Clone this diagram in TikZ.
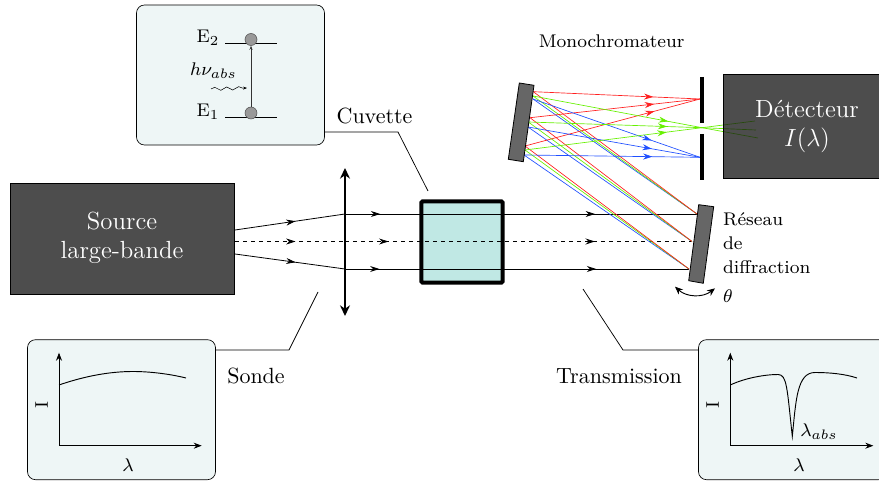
\documentclass[tikz,border=0pt]{standalone}
\usepackage{tikz}
\usetikzlibrary{arrows.meta,decorations.markings,decorations.pathmorphing}
\definecolor{insetbg}{HTML}{EEF6F6}
\definecolor{cellbg}{HTML}{C0E8E4}
\definecolor{gratgray}{HTML}{666666}
\definecolor{rayred}{HTML}{FF2020}
\definecolor{raygreen}{HTML}{66F000}
\definecolor{rayblue}{HTML}{2050FF}
\begin{document}
\begin{tikzpicture}[x=0.75pt, y=-0.75pt, darkbox/.style={draw=black, fill=black!93, fill opacity=0.75, inner sep=0pt}, boxtxt/.style={font=\large, scale=1.55, align=center, text=white, inner sep=0pt}, inset/.style={draw=black, fill=insetbg, rounded corners=6pt, inner sep=0pt, minimum width=141pt, minimum height=105pt, line width=0.5pt}, lbl/.style={font=\normalsize, scale=1.65, inner sep=0pt}, smalltxt/.style={font=\footnotesize, scale=1.72, inner sep=0pt}, grating/.style={draw=black, fill=gratgray, line width=0.6pt}, beam/.style={postaction={decorate}, decoration={markings, mark=at position #1 with {\arrow{Stealth[length=7pt,width=4.5pt]}}}}, twobeam/.style 2 args={line width=0.6pt, postaction={decorate}, decoration={markings, mark=at position #1 with {\arrow{Stealth[length=7pt,width=4.5pt]}}, mark=at position #2 with {\arrow{Stealth[length=7pt,width=4.5pt]}}}}, axis/.style={-{Stealth[length=6pt,width=4.5pt]}, line width=0.6pt}, curve/.style={line width=0.7pt}, leader/.style={line width=0.55pt}, ray/.style={line width=0.5pt}]
\clip (0,0) rectangle (879,484);
\coordinate (sup) at (235,230); \coordinate (smid) at (235,241.5); \coordinate (slow) at (235,254); \coordinate (lup) at (345,214); \coordinate (lmid) at (345,241.5); \coordinate (llow) at (345,269); \coordinate (gup) at (697,214); \coordinate (gmid) at (692,241.5); \coordinate (glow) at (689,269);
\coordinate (r1) at (533.3,91.7); \coordinate (r2) at (530,117.7); \coordinate (r3) at (525,146); \coordinate (v1) at (533,96); \coordinate (v2) at (528.3,122); \coordinate (v3) at (525,150); \coordinate (b1) at (533,99); \coordinate (b2) at (528,127); \coordinate (b3) at (524,155); \coordinate (fr) at (700,99); \coordinate (fv) at (702,127.7); \coordinate (fb) at (700,157.3); \coordinate (v1end) at (758,138); \coordinate (v2end) at (756,130); \coordinate (v3end) at (755,121);
% beams through lens and cell
\node[draw=black, fill=cellbg, line width=3pt, rounded corners=1pt, minimum size=61pt, inner sep=0pt] (cell) at (462,242) {};
\draw[beam=0.55, line width=0.6pt] (sup) -- (lup); \draw[beam=0.55, line width=0.6pt, dashed] (smid) -- (lmid); \draw[beam=0.55, line width=0.6pt] (slow) -- (llow);
\draw[twobeam={0.1}{0.71}] (lup) -- (gup); \draw[twobeam={0.125}{0.72}, dashed] (lmid) -- (gmid); \draw[twobeam={0.1}{0.73}] (llow) -- (glow);
\draw[{Stealth[length=8pt,width=7.5pt]}-{Stealth[length=8pt,width=7.5pt]}, line width=1.3pt] (345,168) -- (345,316);
% dispersed rays
\draw[ray, rayblue] (gup) -- (b1); \draw[ray, rayblue] (gmid) -- (b2); \draw[ray, rayblue] (glow) -- (b3); \draw[ray, raygreen] (gup) -- (v1); \draw[ray, raygreen] (gmid) -- (v2); \draw[ray, raygreen] (glow) -- (v3); \draw[ray, rayred] (gup) -- (r1); \draw[ray, rayred] (gmid) -- (r2); \draw[ray, rayred] (glow) -- (r3);
\draw[ray, rayred, beam=0.72] (r1) -- (fr); \draw[ray, rayred, beam=0.73] (r2) -- (fr); \draw[ray, rayred, beam=0.74] (r3) -- (fr);
\draw[ray, rayblue, beam=0.71] (b1) -- (fb); \draw[ray, rayblue, beam=0.72] (b2) -- (fb); \draw[ray, rayblue, beam=0.73] (b3) -- (fb);
\draw[ray, raygreen, beam=0.8] (v1) -- (fv); \draw[ray, raygreen, beam=0.8] (v2) -- (fv); \draw[ray, raygreen, beam=0.8] (v3) -- (fv);
\draw[ray, raygreen] (fv) -- (v1end); \draw[ray, raygreen] (fv) -- (v2end); \draw[ray, raygreen] (fv) -- (v3end);
% gratings and slits
\draw[grating] (519.3,83) -- (534,85.3) -- (523.3,161.7) -- (508.3,159.3) -- cycle; \draw[grating] (698.7,204.7) -- (713.7,206.7) -- (703.3,283.3) -- (688.7,280.7) -- cycle;
\draw[line width=2.8pt] (702,77) -- (702,123); \draw[line width=2.8pt] (702,134) -- (702,180);
\node[darkbox, minimum width=168pt, minimum height=83pt] (source) at (122,238.5) {}; \node[darkbox, minimum width=130pt, minimum height=78pt] (detector) at (810,126) {};
\node[boxtxt] (sourcetxt) at (122,238) {Source\\large-bande}; \node[boxtxt] (detectortxt) at (807,126.5) {D\'etecteur\\$I(\lambda)$};
% labels
\node[smalltxt] (mono) at (611.7,41) {Monochromateur}; \node[lbl] (cuvette) at (374.5,115.5) {Cuvette}; \node[lbl] (sonde) at (256,376) {Sonde}; \node[lbl] (transm) at (619,376) {Transmission};
\node[smalltxt, anchor=west] (res1) at (722.7,219) {R\'eseau}; \node[smalltxt, anchor=west] (res2) at (722.7,243) {de}; \node[smalltxt, anchor=west] (res3) at (722.7,267) {diffraction}; \node[smalltxt] (theta) at (728,296) {$\theta$};
\coordinate (rotl) at (675,286.7); \coordinate (rotr) at (715,288.3); \draw[{Stealth[length=6pt,width=5pt]}-{Stealth[length=6pt,width=5pt]}, line width=0.7pt] (rotl) to[bend right=40] (rotr);
% top inset
\node[inset, minimum height=105pt] (levels) at (230.5,75) {};
\coordinate (e2a) at (225,43.7); \coordinate (e2b) at (277,43.7); \coordinate (e1a) at (225,117.7); \coordinate (e1b) at (277,117.7);
\draw[line width=0.5pt] (e2a) -- (e2b); \draw[line width=0.5pt] (e1a) -- (e1b);
\node[draw=black!70, fill=black!40, circle, minimum size=9pt, inner sep=0pt, line width=0.4pt] (up) at (251,39.5) {}; \node[draw=black!70, fill=black!40, circle, minimum size=9pt, inner sep=0pt, line width=0.4pt] (low) at (251,113) {};
\draw[-{Stealth[length=3pt]}, line width=0.5pt, black!80] (low) -- (up);
\node[smalltxt] (e2) at (208,38) {E$_2$}; \node[smalltxt] (e1) at (208,112) {E$_1$}; \node[smalltxt] (hnu) at (213.5,71) {$h\nu_{abs}$};
\coordinate (wa) at (211,89); \coordinate (wb) at (247,88); \draw[-{Stealth[length=3pt]}, line width=0.4pt, decorate, decoration={snake, amplitude=1.2pt, segment length=9pt, post length=3pt}] (wa) -- (wb);
% probe inset
\node[inset] (probe) at (121.5,409.7) {};
\coordinate (po) at (59,445.7); \coordinate (py) at (59,352.7); \coordinate (px) at (201.7,445.7);
\draw[axis] (po) -- (py); \draw[axis] (po) -- (px);
\draw[curve] (59,385) .. controls (85,376) and (110,371.5) .. (133,371.5) .. controls (150,371.5) and (170,374) .. (186,378);
\node[smalltxt, rotate=90] (ip) at (41.7,405) {I}; \node[smalltxt] (lp) at (128,465) {$\lambda$};
% transmission inset
\node[inset] (trans) at (792.5,409.7) {};
\coordinate (to) at (730.3,445.7); \coordinate (ty) at (730.3,352.7); \coordinate (tx) at (873.3,445.7);
\draw[axis] (to) -- (ty); \draw[axis] (to) -- (tx);
\draw[curve] (730.3,385) .. controls (745,378) and (765,374.5) .. (778,374.5) .. controls (787,374.5) and (787,388) .. (792.3,436.3) .. controls (796,400) and (797,372.5) .. (815,372.5) .. controls (830,372.5) and (845,374) .. (857,378);
\node[smalltxt, rotate=90] (it) at (712.7,405) {I}; \node[smalltxt] (lt) at (799,465) {$\lambda$}; \node[smalltxt] (labs) at (819,431.5) {$\lambda_{abs}$};
% leaders
\coordinate (c1) at (398,132); \coordinate (c2) at (428,191); \coordinate (s1) at (289,350); \coordinate (s2) at (318,292); \coordinate (t1) at (623,350); \coordinate (t2) at (583,289);
\draw[leader] (levels.east |- c1) -- (c1) -- (c2); \draw[leader] (probe.east |- s1) -- (s1) -- (s2); \draw[leader] (trans.west |- t1) -- (t1) -- (t2);
\end{tikzpicture}
\end{document}
